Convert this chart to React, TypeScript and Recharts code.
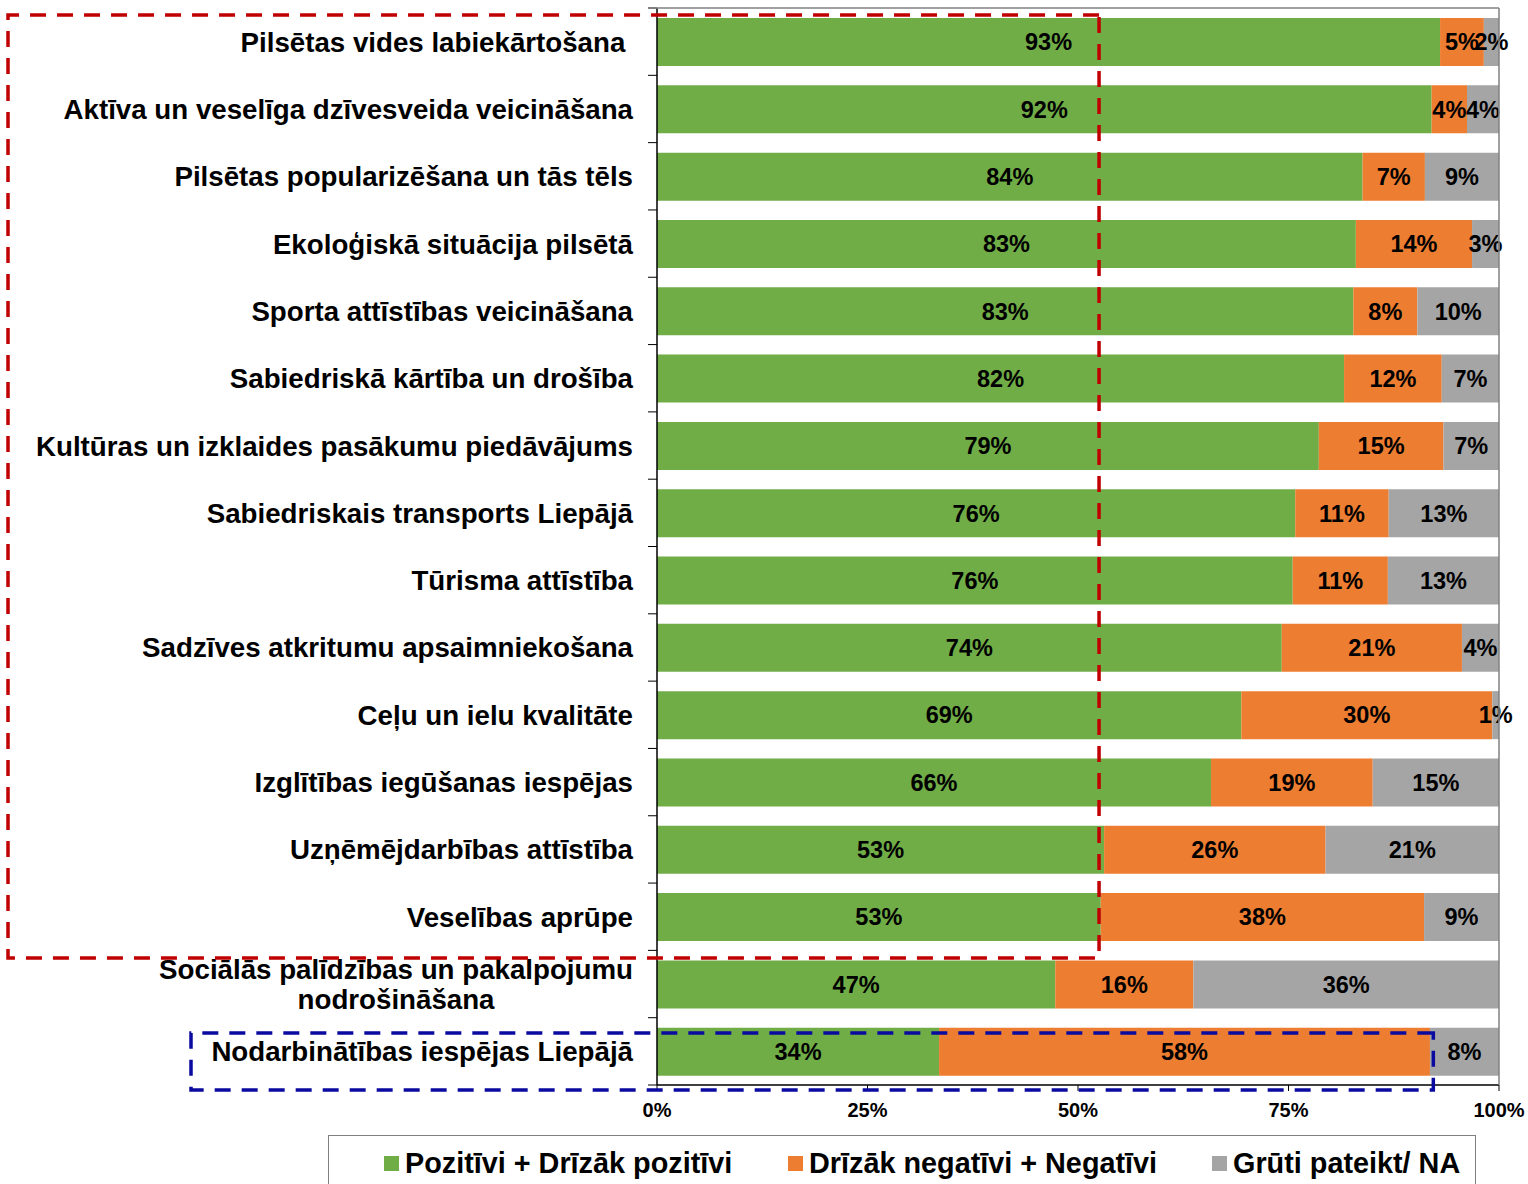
import { BarChart, Bar, XAxis, YAxis, LabelList } from 'recharts';

const categories = [
  'Pilsētas vides labiekārtošana\u00a0',
  'Aktīva un veselīga dzīvesveida veicināšana',
  'Pilsētas popularizēšana un tās tēls',
  'Ekoloģiskā situācija pilsētā',
  'Sporta attīstības veicināšana',
  'Sabiedriskā kārtība un drošība',
  'Kultūras un izklaides pasākumu piedāvājums',
  'Sabiedriskais transports Liepājā',
  'Tūrisma attīstība',
  'Sadzīves atkritumu apsaimniekošana',
  'Ceļu un ielu kvalitāte',
  'Izglītības iegūšanas iespējas',
  'Uzņēmējdarbības attīstība',
  'Veselības aprūpe',
  'Sociālās palīdzības un pakalpojumu\nnodrošināšana',
  'Nodarbinātības iespējas Liepājā',
];

const positive = [93.0, 92.0, 83.8, 83.0, 82.7, 81.6, 78.6, 75.8, 75.5, 74.2, 69.4, 65.8, 53.1, 52.7, 47.3, 33.5];
const negative = [5.2, 4.2, 7.4, 13.8, 7.6, 11.6, 14.8, 11.1, 11.3, 21.4, 29.8, 19.2, 26.3, 38.4, 16.4, 58.3];
const unsure = [1.8, 3.8, 8.8, 3.2, 9.7, 6.8, 6.6, 13.1, 13.2, 4.4, 0.8, 15.0, 20.6, 8.9, 36.3, 8.2];

const xTicks = [0, 25, 50, 75, 100];
const seriesNames = ['Pozitīvi + Drīzāk pozitīvi', 'Drīzāk negatīvi + Negatīvi', 'Grūti pateikt/ NA'];
const seriesColors = ['#70AD47', '#ED7D31', '#A5A5A5'];

// the two dashed frames drawn over the chart (percent on the x scale)
const redFrameRight = 52.5;
const blueFrameRight = 92.2;

const CHART_W = 1528;
const CHART_H = 1184;
const MARGIN = { top: 8, right: 29, bottom: 0, left: 0 };
const Y_AXIS_W = 657;
const X_AXIS_H = 99;
const PLOT_LEFT = MARGIN.left + Y_AXIS_W;
const PLOT_RIGHT = CHART_W - MARGIN.right;
const PLOT_TOP = MARGIN.top;
const PLOT_BOTTOM = CHART_H - MARGIN.bottom - X_AXIS_H;
const BAND = (PLOT_BOTTOM - PLOT_TOP) / categories.length;
const FONT = '"Liberation Sans", Arial, sans-serif';
const LABEL_SIZE = 27.7;

const xPos = (v: number) => PLOT_LEFT + (v / 100) * (PLOT_RIGHT - PLOT_LEFT);

const data = categories.map((name, i) => ({
  name,
  pos: positive[i],
  neg: negative[i],
  na: unsure[i],
}));

let ctx: CanvasRenderingContext2D | null = null;
function textWidth(s: string) {
  if (!ctx) ctx = document.createElement('canvas').getContext('2d');
  if (!ctx) return s.length * LABEL_SIZE * 0.55;
  ctx.font = `bold ${LABEL_SIZE}px ${FONT}`;
  return ctx.measureText(s).width;
}

function CategoryTick(props: any) {
  const { y, payload, index } = props;
  const lines = String(payload.value).split('\n');
  const textRight = PLOT_LEFT - 24;
  const half = BAND / 2;
  const common = { fontFamily: FONT, fontSize: LABEL_SIZE, fontWeight: 'bold', fill: '#000' };
  return (
    <g>
      <line x1={PLOT_LEFT - 9} x2={PLOT_LEFT} y1={y - half} y2={y - half} stroke="#000" />
      {index === categories.length - 1 && (
        <line x1={PLOT_LEFT - 9} x2={PLOT_LEFT} y1={y + half} y2={y + half} stroke="#000" />
      )}
      {lines.length === 1 ? (
        <text x={textRight} y={y} dy="0.36em" textAnchor="end" {...common}>
          {lines[0]}
        </text>
      ) : (
        lines.map((ln, k) => {
          const cx = textRight - textWidth(lines[0]) / 2;
          return (
            <text key={k} x={cx} y={y + (k - (lines.length - 1) / 2) * 30} dy="0.36em" textAnchor="middle" {...common}>
              {ln}
            </text>
          );
        })
      )}
    </g>
  );
}

const pct = (v: any) => `${Math.round(Number(v))}%`;

export default function App() {
  const dash = { fill: 'none', strokeWidth: 3.5, strokeDasharray: '16 11' };
  return (
    <div style={{ position: 'absolute', left: 0, top: 0, width: CHART_W, height: CHART_H, background: '#fff', fontFamily: FONT, overflow: 'hidden' }}>
      <BarChart width={CHART_W} height={CHART_H} data={data} layout="vertical" margin={MARGIN} barSize={48}>
        <XAxis
          type="number"
          domain={[0, 100]}
          ticks={xTicks}
          interval={0}
          tickFormatter={(v) => `${v}%`}
          axisLine={{ stroke: '#000', strokeWidth: 1.5 }}
          tickLine={{ stroke: '#000' }}
          tickSize={6}
          tickMargin={12}
          height={X_AXIS_H}
          tick={{ fill: '#000', fontSize: 20, fontWeight: 'bold', fontFamily: FONT }}
        />
        <YAxis
          type="category"
          dataKey="name"
          width={Y_AXIS_W}
          interval={0}
          axisLine={{ stroke: '#000', strokeWidth: 1.5 }}
          tickLine={false}
          tickSize={0}
          tick={<CategoryTick />}
        />
        {(['pos', 'neg', 'na'] as const).map((key, s) => (
          <Bar key={key} dataKey={key} name={seriesNames[s]} stackId="a" fill={seriesColors[s]} isAnimationActive={false}>
            <LabelList
              dataKey={key}
              position="center"
              formatter={pct}
              fill="#000"
              fontSize={23.5}
              fontWeight="bold"
              fontFamily={FONT}
            />
          </Bar>
        ))}
      </BarChart>

      <svg width={CHART_W} height={CHART_H} style={{ position: 'absolute', left: 0, top: 0, pointerEvents: 'none' }}>
        <line x1={PLOT_LEFT - 9} x2={PLOT_RIGHT} y1={PLOT_TOP} y2={PLOT_TOP} stroke="#808080" strokeWidth={1.5} />
        <line x1={PLOT_RIGHT} x2={PLOT_RIGHT} y1={PLOT_TOP} y2={PLOT_BOTTOM} stroke="#808080" strokeWidth={1.5} />
        <path d={`M ${xPos(redFrameRight)} 15 H 8 V 958 H ${xPos(redFrameRight)} Z`} stroke="#C00000" {...dash} />
        <path d={`M ${xPos(blueFrameRight)} 1033 H 191 V 1090 H ${xPos(blueFrameRight)} Z`} stroke="#0A0AA0" {...dash} />
      </svg>

      <div style={{ position: 'absolute', left: 328, top: 1135, width: 1148, height: 70, border: '1.5px solid #808080', boxSizing: 'border-box' }}>
        {seriesNames.map((n, s) => (
          <div
            key={n}
            style={{ position: 'absolute', left: [55, 459, 883][s], top: 10, display: 'flex', alignItems: 'center', height: 34, whiteSpace: 'nowrap' }}
          >
            <span style={{ display: 'inline-block', width: 15, height: 15, background: seriesColors[s], marginRight: 6 }} />
            <span style={{ fontSize: 28.8, fontWeight: 'bold', color: '#000', lineHeight: '34px' }}>{n}</span>
          </div>
        ))}
      </div>
    </div>
  );
}
